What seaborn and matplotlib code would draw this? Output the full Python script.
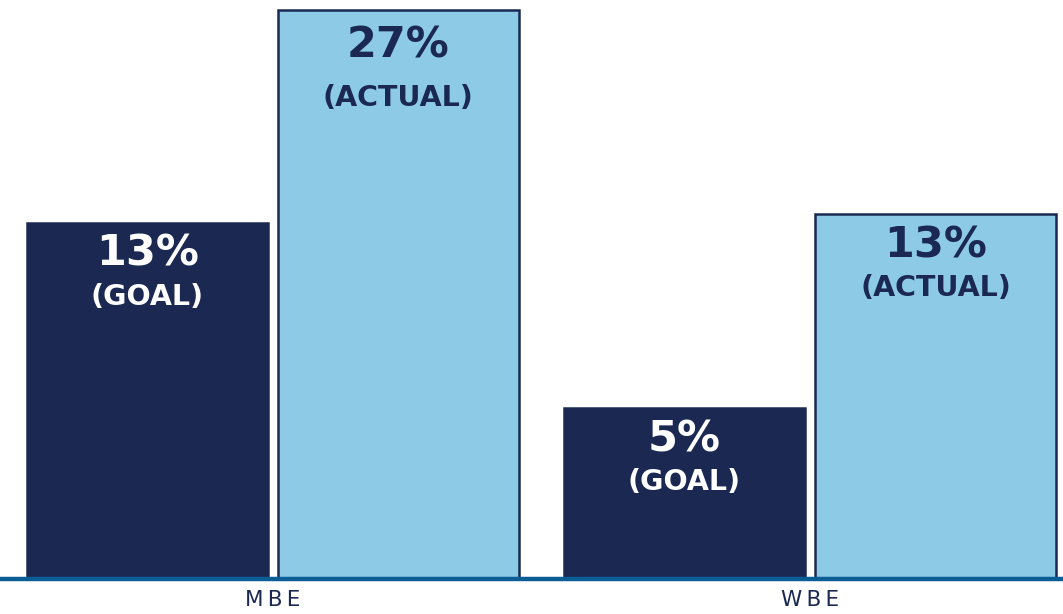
import matplotlib
matplotlib.use("Agg")
import matplotlib.pyplot as plt
import seaborn as sns
import pandas as pd

categories = ["MBE", "MBE", "WBE", "WBE"]
series = ["Goal", "Actual", "Goal", "Actual"]
percent_labels = ["13%", "27%", "5%", "13%"]
kind_labels = ["(GOAL)", "(ACTUAL)", "(GOAL)", "(ACTUAL)"]
# displayed bar heights as drawn in the picture (not proportional to the labels)
bar_heights = [16.9, 27.0, 8.1, 17.3]
tick_labels = ["M\u2009B\u2009E", "W\u2009B\u2009E"]

navy = "#1b2952"
light = "#8ccae6"
base_col = "#0b5e95"

df = pd.DataFrame({"cat": categories, "series": series, "h": bar_heights,
                   "pct": percent_labels, "kind": kind_labels})

sns.set_theme(style="white")
plt.rcParams["font.family"] = ["DejaVu Sans"]

fig = plt.figure(figsize=(10.63, 6.14), dpi=100)
ax = fig.add_axes([0, 1 - 579 / 614, 1, 579 / 614])

sns.barplot(data=df, x="cat", y="h", hue="series", hue_order=["Goal", "Actual"],
            palette={"Goal": navy, "Actual": light}, width=0.935, gap=0.04,
            saturation=1, edgecolor=navy, linewidth=1.8, legend=False, ax=ax,
            errorbar=None)

ax.set_xlim(-0.508, 1.471)
ax.set_ylim(0, 27.0 * 579 / 569)

for cont, ser in zip(ax.containers, ["Goal", "Actual"]):
    sub = df[df.series == ser].reset_index(drop=True)
    col = "white" if ser == "Goal" else navy
    for patch, (_, row) in zip(cont.patches, sub.iterrows()):
        x = patch.get_x() + patch.get_width() / 2
        y = patch.get_height()
        big = row.pct == "27%"
        ax.annotate(row.pct, (x, y), xytext=(0, -(35 if big else 31) * 0.72),
                    textcoords="offset points", ha="center", va="center",
                    fontsize=31, fontweight="bold", color=col)
        ax.annotate(row.kind, (x, y), xytext=(0, -(88 if big else 74) * 0.72),
                    textcoords="offset points", ha="center", va="center",
                    fontsize=20.5, fontweight="bold", color=col)

ax.axhline(0, color=base_col, linewidth=3.2, zorder=5, clip_on=False)
for s in ax.spines.values():
    s.set_visible(False)
ax.set_yticks([])
ax.set_xlabel("")
ax.set_ylabel("")
ax.set_xticks([0, 1])
ax.set_xticklabels(tick_labels)
ax.tick_params(axis="x", length=0, pad=8, labelsize=15.5, labelcolor=navy)

fig.savefig("out.png", dpi=100, facecolor="white")
